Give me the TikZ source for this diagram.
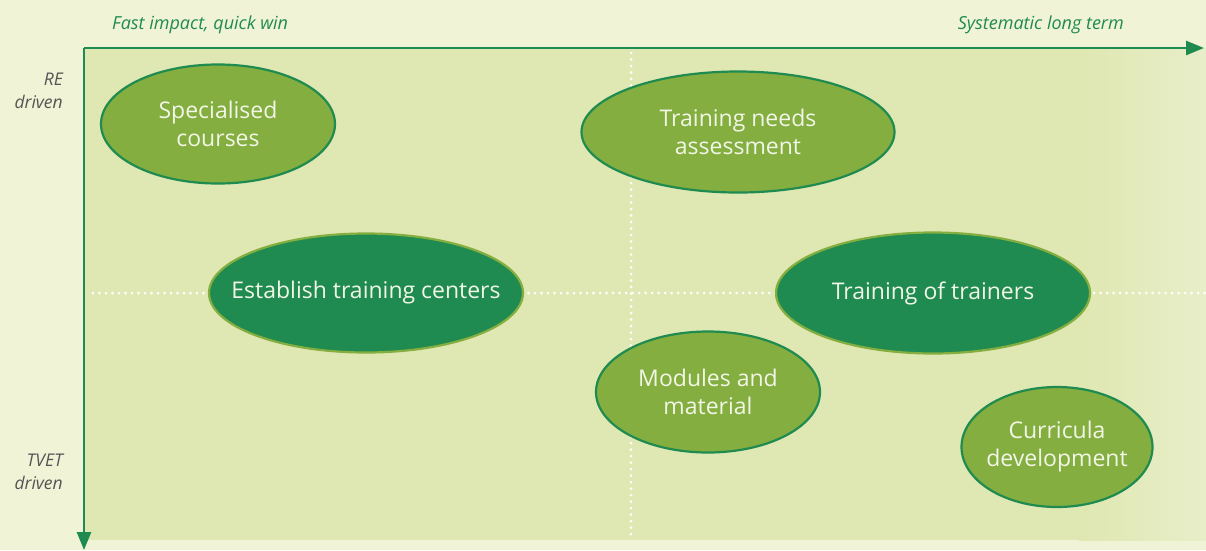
\documentclass[tikz,border=0pt]{standalone}
\usepackage{fontspec}
\setmainfont{Open Sans}
\usetikzlibrary{shapes.geometric,arrows.meta}
\definecolor{outerbg}{RGB}{240,243,214}
\definecolor{innerbg}{RGB}{223,231,178}
\definecolor{innerfade}{RGB}{232,238,200}
\definecolor{lightgreen}{RGB}{132,174,63}
\definecolor{darkgreen}{RGB}{31,139,80}
\definecolor{labelgray}{RGB}{85,85,85}
\definecolor{bubbletext}{RGB}{242,246,232}
\tikzset{
  axisline/.style={darkgreen, line width=2.6pt, -{Triangle[length=18pt,width=14pt]}},
  gridline/.style={white, line width=3pt, line cap=round, dash pattern=on 0pt off 6.5pt},
  bubbletxt/.style={align=center, text=bubbletext, inner sep=0pt,
    font=\fontsize{23}{28}\selectfont},
  bubble/.style={ellipse, inner sep=0pt, label={[bubbletxt]center:#1}},
  lightbubble/.style={bubble=#1, fill=lightgreen, draw=darkgreen, line width=2.2pt},
  darkbubble/.style={bubble=#1, fill=darkgreen, draw=lightgreen, line width=2.2pt},
  axislabel/.style={darkgreen, font=\fontsize{18}{22}\selectfont\itshape, inner sep=0pt},
  sidelabel/.style={labelgray, font=\fontsize{17.5}{23}\selectfont\itshape, align=right, inner sep=0pt, anchor=east}
}
\begin{document}
\begin{tikzpicture}[x=1pt,y=-1pt]
\useasboundingbox (0,0) rectangle (1206,550);
\fill[outerbg] (0,0) rectangle (1206,550);
\fill[innerbg] (84,48) rectangle (1080,540);
\shade[left color=innerbg, right color=innerfade] (1079,48) rectangle (1206,540);
% grid
\coordinate (vt) at (631,53);
\coordinate (vb) at (631,539);
\coordinate (hl) at (93,293);
\coordinate (hr) at (1206,293);
\draw[gridline] (vt) -- (vb);
\draw[gridline] (hl) -- (hr);
% axes
\coordinate (origin) at (84,48);
\coordinate (xend) at (1204,48);
\coordinate (yend) at (84,550);
\draw[axisline] (origin) -- (xend);
\draw[axisline] (origin) -- (yend);
% labels
\node[axislabel, anchor=west] (fast) at (112,25) {Fast impact, quick win};
\node[axislabel, anchor=east] (syst) at (1124,25) {Systematic long term};
\node[sidelabel] (re) at (63,91) {RE\\driven};
\node[sidelabel] (tvet) at (63,472) {TVET\\driven};
% bubbles
\node[lightbubble={Specialised\\courses}, minimum width=234pt, minimum height=119pt] (spec) at (218,124) {};
\node[lightbubble={Training needs\\assessment}, minimum width=313pt, minimum height=121pt] (tna) at (738,132) {};
\node[darkbubble={Establish training centers}, minimum width=314pt, minimum height=119pt] (etc) at (366,293) {};
\node[darkbubble={Training of trainers}, minimum width=314pt, minimum height=121pt] (tot) at (933,293) {};
\node[lightbubble={Modules and\\material}, minimum width=224pt, minimum height=121pt] (mod) at (708,392) {};
\node[lightbubble={Curricula\\development}, minimum width=191pt, minimum height=120pt] (cur) at (1057,447) {};
\end{tikzpicture}
\end{document}
